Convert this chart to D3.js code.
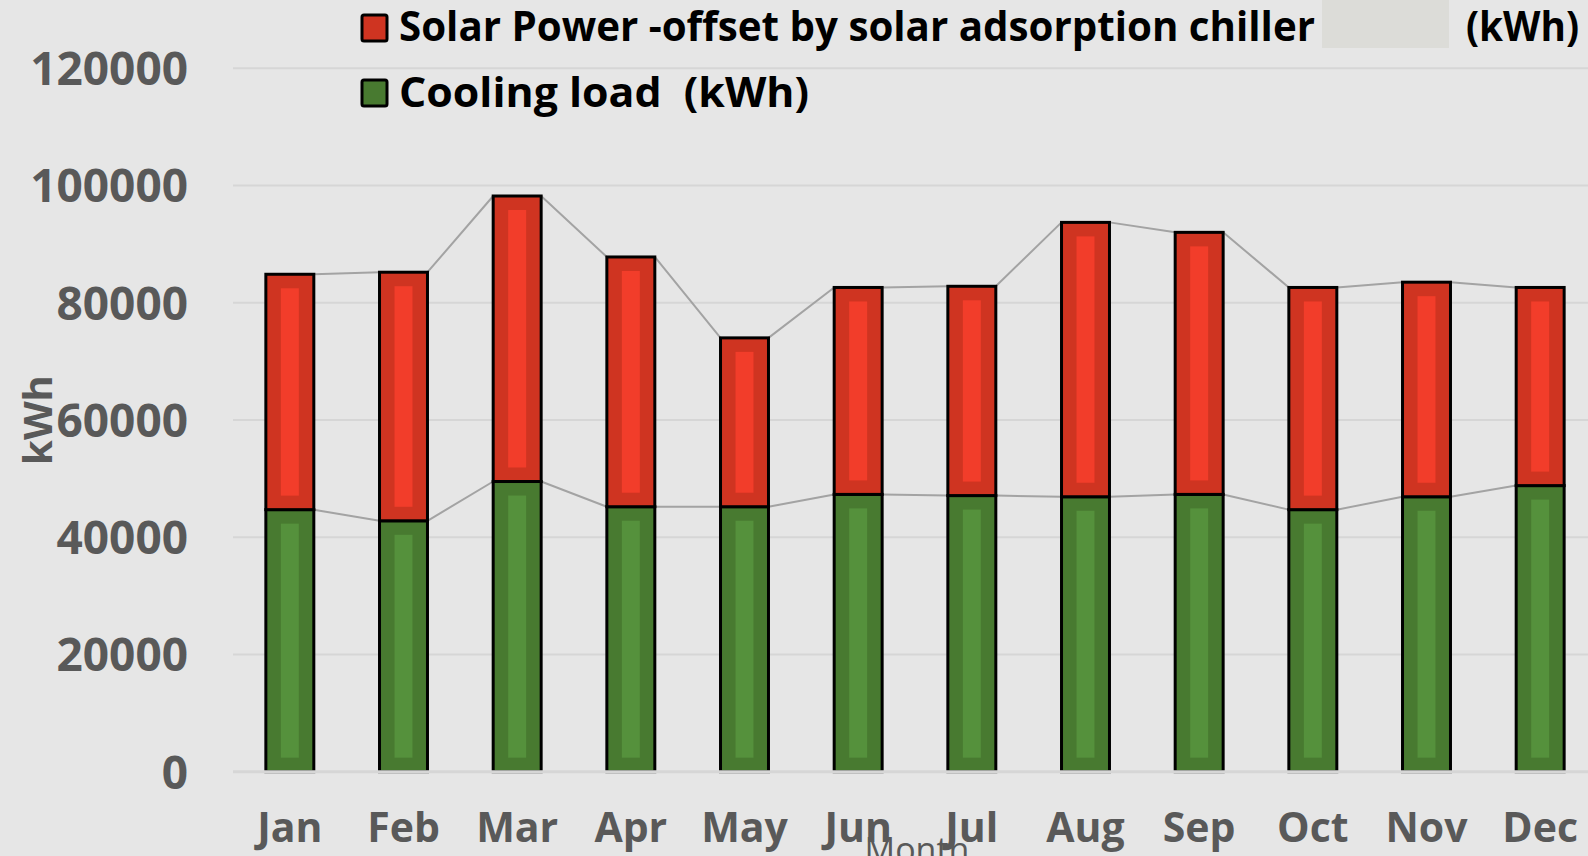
<!DOCTYPE html>
<html lang="en">
<head>
  <meta charset="UTF-8">
  <title>Cooling load and solar power by month</title>
  <script src="https://d3js.org/d3.v7.min.js"></script>
  <style>
    body { margin: 0; background: #e6e6e6; }
    svg { display: block; }
  </style>
</head>
<body>
  <svg width="1588" height="856"></svg>

  <script>
    const width = 1588;
    const height = 856;

    // data
    const months = ["Jan", "Feb", "Mar", "Apr", "May", "Jun", "Jul", "Aug", "Sep", "Oct", "Nov", "Dec"];
    const coolingLoad = [44700, 42800, 49500, 45200, 45200, 47300, 47100, 46900, 47300, 44700, 46900, 48800];
    const solarPower = [40150, 42400, 48700, 42600, 28800, 35300, 35700, 46800, 44700, 37900, 36600, 33800];
    const yTicks = [0, 20000, 40000, 60000, 80000, 100000, 120000];
    const legendLabels = ["Solar Power -offset by solar adsorption chiller", "Cooling load  (kWh)"];

    const svg = d3.select("svg");
    const font = "'Open Sans', sans-serif";
    const grey = "#595959";

    svg.append("rect").attr("width", width).attr("height", height).attr("fill", "#e6e6e6");

    const x = d3.scaleBand()
      .domain(months)
      .range([233, 1597])
      .paddingInner(0.578)
      .paddingOuter(0.289);

    const y = d3.scaleLinear()
      .domain([0, 120000])
      .range([771.7, 68.2]);

    // gridlines
    svg.append("g")
      .selectAll("line")
      .data(yTicks.filter(d => d > 0))
      .join("line")
      .attr("x1", 233).attr("x2", width)
      .attr("y1", d => y(d)).attr("y2", d => y(d))
      .attr("stroke", "#d6d6d6").attr("stroke-width", 2);

    // y tick labels
    svg.append("g")
      .selectAll("text")
      .data(yTicks)
      .join("text")
      .attr("x", 188)
      .attr("y", d => y(d))
      .attr("dy", "0.37em")
      .attr("text-anchor", "end")
      .attr("font-family", font)
      .attr("font-weight", 700)
      .attr("font-size", 46)
      .attr("fill", grey)
      .text(d => d);

    // month labels
    svg.append("g")
      .selectAll("text")
      .data(months)
      .join("text")
      .attr("x", d => x(d) + x.bandwidth() / 2)
      .attr("y", 842)
      .attr("text-anchor", "middle")
      .attr("font-family", font)
      .attr("font-weight", 700)
      .attr("font-size", 41)
      .attr("fill", grey)
      .text(d => d);

    // stacked segments
    const segs = [];
    months.forEach((m, i) => {
      segs.push({ m, y0: 0, y1: coolingLoad[i], s: "cool" });
      segs.push({ m, y0: coolingLoad[i], y1: coolingLoad[i] + solarPower[i], s: "solar" });
    });
    const colors = {
      cool: { outer: "#487a30", inner: "#55913c" },
      solar: { outer: "#cf3421", inner: "#f23d2a" }
    };

    // series lines between bar tops
    const seriesLine = (vals) => {
      const p = d3.path();
      for (let i = 0; i < vals.length - 1; i++) {
        p.moveTo(x(months[i]) + x.bandwidth(), y(vals[i]));
        p.lineTo(x(months[i + 1]), y(vals[i + 1]));
      }
      return p.toString();
    };
    const totals = months.map((m, i) => coolingLoad[i] + solarPower[i]);
    svg.append("path").attr("d", seriesLine(coolingLoad))
      .attr("fill", "none").attr("stroke", "#a3a3a3").attr("stroke-width", 2);
    svg.append("path").attr("d", seriesLine(totals))
      .attr("fill", "none").attr("stroke", "#a3a3a3").attr("stroke-width", 2);

    const bars = svg.append("g").selectAll("g").data(segs).join("g");
    bars.append("rect")
      .attr("x", d => x(d.m))
      .attr("y", d => y(d.y1))
      .attr("width", x.bandwidth())
      .attr("height", d => y(d.y0) - y(d.y1))
      .attr("fill", d => colors[d.s].outer)
      .attr("stroke", "#000")
      .attr("stroke-width", 3);
    bars.append("rect")
      .attr("x", d => x(d.m) + 15)
      .attr("y", d => y(d.y1) + 14)
      .attr("width", x.bandwidth() - 30)
      .attr("height", d => Math.max(0, y(d.y0) - y(d.y1) - 28))
      .attr("fill", d => colors[d.s].inner);

    // baseline
    svg.append("line")
      .attr("x1", 233).attr("x2", width)
      .attr("y1", y(0)).attr("y2", y(0))
      .attr("stroke", "#d6d6d6").attr("stroke-width", 3);

    // axis titles
    svg.append("text")
      .attr("transform", "translate(52,420) rotate(-90)")
      .attr("text-anchor", "middle")
      .attr("font-family", font)
      .attr("font-weight", 700)
      .attr("font-size", 40)
      .attr("fill", grey)
      .text("kWh");
    svg.append("text")
      .attr("x", 917).attr("y", 862)
      .attr("text-anchor", "middle")
      .attr("font-family", font)
      .attr("font-size", 34)
      .attr("fill", grey)
      .text("Month");

    // legend
    const legend = svg.append("g");
    const legendColors = [colors.solar.outer, colors.cool.outer];
    const legendWidths = [916, 410];
    legendLabels.forEach((label, i) => {
      legend.append("rect")
        .attr("x", 362).attr("y", 15 + i * 65)
        .attr("width", 25).attr("height", 26)
        .attr("rx", 2)
        .attr("fill", legendColors[i])
        .attr("stroke", "#000").attr("stroke-width", 3);
      legend.append("text")
        .attr("x", 399).attr("y", 41 + i * 66)
        .attr("font-family", font)
        .attr("font-weight", 700)
        .attr("font-size", 41)
        .attr("fill", "#000")
        .style("white-space", "pre")
        .attr("textLength", legendWidths[i])
        .attr("lengthAdjust", "spacingAndGlyphs")
        .text(label);
    });
    // redacted block and trailing unit of the first entry
    legend.append("rect")
      .attr("x", 1322).attr("y", 0)
      .attr("width", 127).attr("height", 48)
      .attr("fill", "#dcdcd8");
    legend.append("text")
      .attr("x", 1466).attr("y", 41)
      .attr("font-family", font)
      .attr("font-weight", 700)
      .attr("font-size", 41)
      .attr("fill", "#000")
      .attr("textLength", 113)
      .attr("lengthAdjust", "spacingAndGlyphs")
      .text("(kWh)");
  </script>
</body>
</html>
